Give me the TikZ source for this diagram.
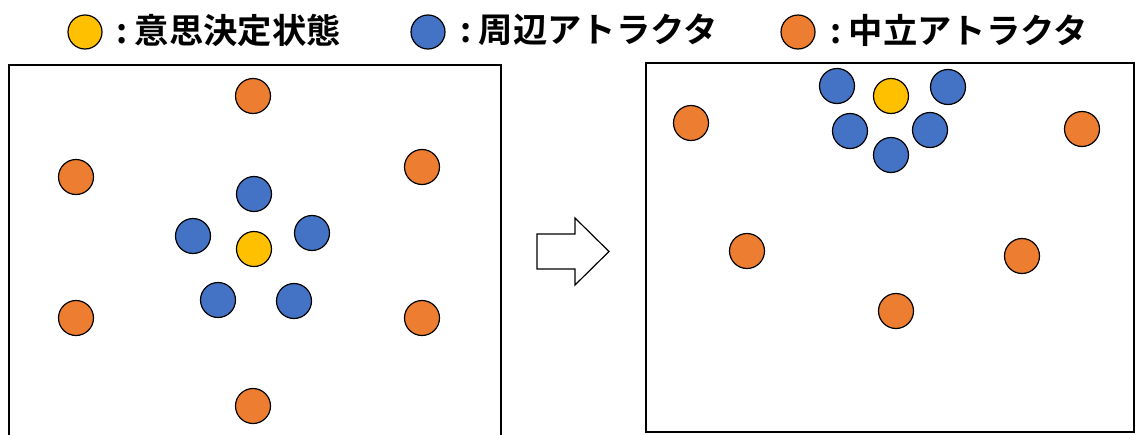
\documentclass[tikz,border=0pt]{standalone}
\usepackage{fontspec}
\newfontfamily\jpfont{Noto Sans CJK JP Bold}
\definecolor{cyel}{HTML}{FFC000}
\definecolor{cblue}{HTML}{4472C4}
\definecolor{corange}{HTML}{ED7D31}
\tikzset{
  ball/.style={circle,draw=black,line width=1.2pt,minimum size=35pt,inner sep=0pt},
  lball/.style={circle,draw=black,line width=1.2pt,minimum size=34pt,inner sep=0pt},
  yb/.style={ball,fill=cyel},
  bb/.style={ball,fill=cblue},
  ob/.style={ball,fill=corange},
  legtext/.style={anchor=west,font=\jpfont\fontsize{34.3pt}{36pt}\selectfont,inner sep=0pt},
  frame/.style={draw=black,line width=2pt},
}
\newcommand{\lsep}{:\hspace{0.22em}}
\begin{document}
\begin{tikzpicture}[x=1pt,y=-1pt]
\useasboundingbox[fill=white] (0,0) rectangle (1137,434);
% legend
\node[lball,fill=cyel] (ly) at (85,32) {};
\node[legtext] (lyt) at (116,30) {\lsep 意思決定状態};
\node[lball,fill=cblue] (lb) at (428,32) {};
\node[legtext] (lbt) at (460,30) {\lsep 周辺アトラクタ};
\node[lball,fill=corange] (lo) at (798,32) {};
\node[legtext] (lot) at (830,30) {\lsep 中立アトラクタ};
% left frame
\draw[frame] (9,440) -- (9,65) -- (501,65) -- (501,440);
\node[ob] (lo1) at (253,96) {};
\node[ob] (lo2) at (76,177) {};
\node[ob] (lo3) at (422,167) {};
\node[ob] (lo4) at (76,318) {};
\node[ob] (lo5) at (422,318) {};
\node[ob] (lo6) at (253,406) {};
\node[bb] (lb1) at (254,194) {};
\node[bb] (lb2) at (193,236) {};
\node[bb] (lb3) at (312,233) {};
\node[bb] (lb4) at (218,300) {};
\node[bb] (lb5) at (294,301) {};
\node[yb] (ly1) at (254,249) {};
% arrow
\draw[line width=1.2pt,fill=white] (537,234) -- (575,234) -- (575,218) -- (609,251.5) -- (575,285) -- (575,269) -- (537,269) -- cycle;
% right frame
\draw[frame] (646,63) rectangle (1134,432);
\node[bb] (rb1) at (837,86) {};
\node[bb] (rb2) at (948,87) {};
\node[bb] (rb3) at (850,131) {};
\node[bb] (rb4) at (930,130) {};
\node[bb] (rb5) at (891,155) {};
\node[yb] (ry1) at (891,96) {};
\node[ob] (ro1) at (691,123) {};
\node[ob] (ro2) at (1082,129) {};
\node[ob] (ro3) at (747,251) {};
\node[ob] (ro4) at (1022,256) {};
\node[ob] (ro5) at (896,311) {};
\end{tikzpicture}
\end{document}
